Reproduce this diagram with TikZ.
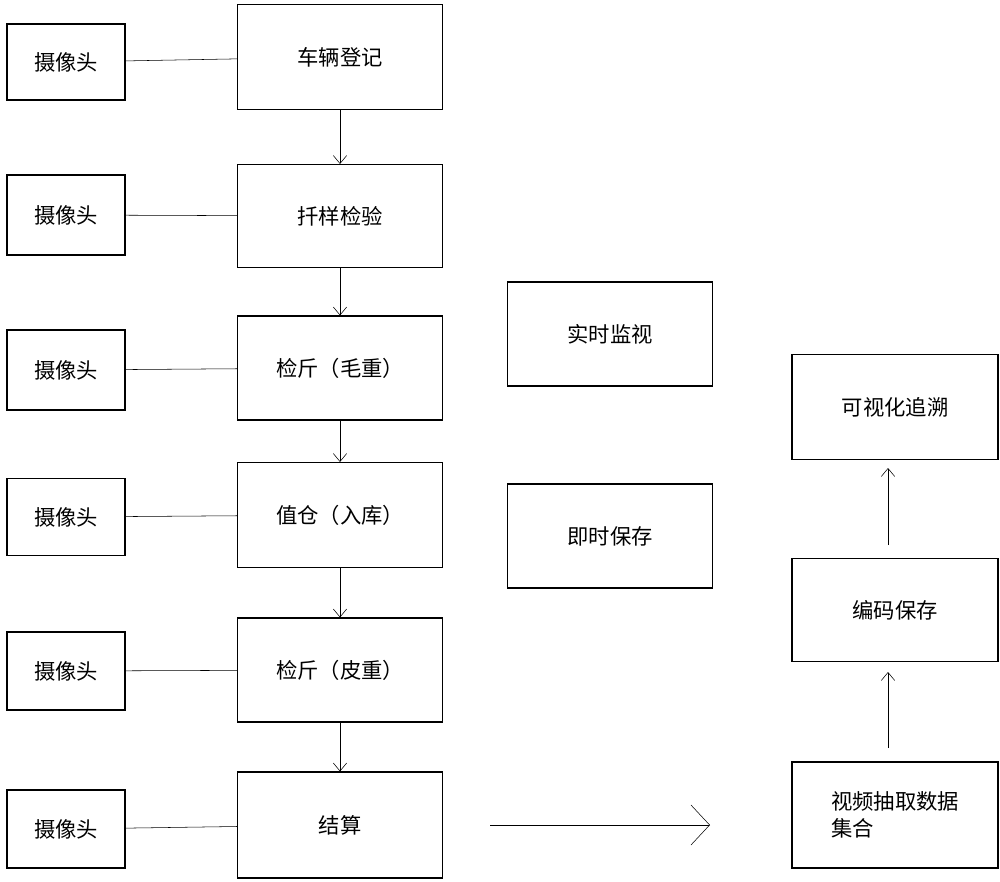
\documentclass[tikz,border=0pt]{standalone}
\usepackage{fontspec}
\setmainfont{Noto Sans CJK SC}
\usetikzlibrary{arrows.meta}
\tikzset{box/.style={draw,thick,rectangle,inner sep=0pt,font=\fontsize{16}{20}\selectfont}}
\tikzset{>={Straight Barb[length=6pt,width=10pt]}}

\begin{document}
\begin{tikzpicture}[x=0.75pt,y=-0.75pt]
\useasboundingbox (0,0) rectangle (1000,882);
% main column
\node[box,minimum width=205*0.75pt,minimum height=105*0.75pt] (reg) at (340,57) {车辆登记};
\node[box,minimum width=205*0.75pt,minimum height=103*0.75pt] (samp) at (340,216) {扦样检验};
\node[box,minimum width=205*0.75pt,minimum height=104*0.75pt] (gross) at (340,368) {检斤（毛重）};
\node[box,minimum width=205*0.75pt,minimum height=105*0.75pt] (store) at (340,515) {值仓（入库）};
\node[box,minimum width=205*0.75pt,minimum height=104*0.75pt] (tare) at (340,670) {检斤（皮重）};
\node[box,minimum width=205*0.75pt,minimum height=106*0.75pt] (settle) at (340,825) {结算};
% cameras
\node[box,minimum width=118*0.75pt,minimum height=76*0.75pt] (cam1) at (66,62) {摄像头};
\node[box,minimum width=118*0.75pt,minimum height=80*0.75pt] (cam2) at (66,215) {摄像头};
\node[box,minimum width=118*0.75pt,minimum height=80*0.75pt] (cam3) at (66,370) {摄像头};
\node[box,minimum width=118*0.75pt,minimum height=77*0.75pt] (cam4) at (66,517) {摄像头};
\node[box,minimum width=118*0.75pt,minimum height=78*0.75pt] (cam5) at (66,671) {摄像头};
\node[box,minimum width=118*0.75pt,minimum height=78*0.75pt] (cam6) at (66,829) {摄像头};
% middle
\node[box,minimum width=205*0.75pt,minimum height=104*0.75pt] (watch) at (610,334) {实时监视};
\node[box,minimum width=205*0.75pt,minimum height=104*0.75pt] (save) at (610,536) {即时保存};
% right column
\node[box,minimum width=206*0.75pt,minimum height=105*0.75pt] (trace) at (895,407) {可视化追溯};
\node[box,minimum width=206*0.75pt,minimum height=103*0.75pt] (code) at (895,610) {编码保存};
\node[box,minimum width=206*0.75pt,minimum height=106*0.75pt,align=left] (video) at (895,815) {视频抽取数据\\集合};
\coordinate (from) at (490,825);
\coordinate (to) at (710,825);
\coordinate (v1) at (888,748);
\coordinate (v2) at (888,672);
\coordinate (v3) at (888,545);
\coordinate (v4) at (888,468);

\foreach \c/\m in {cam1/reg,cam2/samp,cam3/gross,cam4/store,cam5/tare,cam6/settle}
  \draw (\c) -- (\m);
\foreach \a/\b in {reg/samp,samp/gross,gross/store,store/tare,tare/settle}
  \draw[->] (\a) -- (\b);
\draw[{Straight Barb[length=14pt,width=30pt]}-] (to) -- (from);
\draw[->] (v1) -- (v2);
\draw[->] (v3) -- (v4);
\end{tikzpicture}
\end{document}
